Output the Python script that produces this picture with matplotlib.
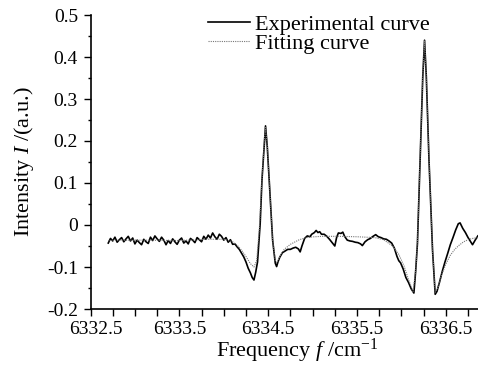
import matplotlib
matplotlib.use("Agg")
import matplotlib.pyplot as plt
import matplotlib.transforms as mtransforms
from matplotlib.ticker import MultipleLocator, FixedLocator

plt.rcParams['font.family'] = ['Liberation Serif', 'DejaVu Serif']
plt.rcParams['mathtext.fontset'] = 'custom'
plt.rcParams['mathtext.rm'] = 'Liberation Serif'
plt.rcParams['mathtext.it'] = 'Liberation Serif:italic'

# experimental spectrum
exp_freq = [
    6332.700, 6332.725, 6332.750, 6332.775, 6332.800, 6332.825, 6332.850, 6332.875,
    6332.900, 6332.925, 6332.950, 6332.975, 6333.000, 6333.025, 6333.050, 6333.075,
    6333.100, 6333.125, 6333.150, 6333.175, 6333.200, 6333.225, 6333.250, 6333.275,
    6333.300, 6333.325, 6333.350, 6333.375, 6333.400, 6333.425, 6333.450, 6333.475,
    6333.500, 6333.525, 6333.550, 6333.575, 6333.600, 6333.625, 6333.650, 6333.675,
    6333.700, 6333.725, 6333.750, 6333.775, 6333.800, 6333.825, 6333.850, 6333.875,
    6333.900, 6333.925, 6333.950, 6333.975, 6334.000, 6334.025, 6334.050, 6334.075,
    6334.100, 6334.125, 6334.150, 6334.175, 6334.200, 6334.225, 6334.250, 6334.275,
    6334.300, 6334.320, 6334.340, 6334.360, 6334.380, 6334.410, 6334.430, 6334.460,
    6334.470, 6334.490, 6334.520, 6334.550, 6334.580, 6334.595, 6334.610, 6334.630,
    6334.660, 6334.690, 6334.720, 6334.750, 6334.780, 6334.810, 6334.840, 6334.860,
    6334.880, 6334.910, 6334.940, 6334.970, 6334.990, 6335.020, 6335.040, 6335.060,
    6335.080, 6335.100, 6335.130, 6335.160, 6335.190, 6335.220, 6335.250, 6335.270,
    6335.290, 6335.320, 6335.340, 6335.360, 6335.390, 6335.420, 6335.450, 6335.480,
    6335.510, 6335.540, 6335.560, 6335.590, 6335.620, 6335.650, 6335.680, 6335.710,
    6335.740, 6335.770, 6335.800, 6335.830, 6335.860, 6335.890, 6335.920, 6335.950,
    6335.970, 6335.990, 6336.020, 6336.050, 6336.080, 6336.110, 6336.140, 6336.160,
    6336.180, 6336.210, 6336.240, 6336.260, 6336.280, 6336.310, 6336.350, 6336.380,
    6336.400, 6336.430, 6336.460, 6336.490, 6336.520, 6336.550, 6336.580, 6336.610,
    6336.640, 6336.660, 6336.690, 6336.720, 6336.750, 6336.780, 6336.800, 6336.830,
    6336.860,
]
exp_int = [
    -0.043, -0.032, -0.038, -0.029, -0.041, -0.035, -0.030, -0.040,
    -0.033, -0.027, -0.038, -0.031, -0.045, -0.036, -0.042, -0.047,
    -0.034, -0.040, -0.044, -0.029, -0.037, -0.026, -0.033, -0.039,
    -0.029, -0.036, -0.047, -0.037, -0.044, -0.033, -0.040, -0.046,
    -0.036, -0.031, -0.043, -0.038, -0.045, -0.032, -0.036, -0.042,
    -0.030, -0.035, -0.040, -0.027, -0.034, -0.024, -0.031, -0.019,
    -0.028, -0.034, -0.022, -0.027, -0.036, -0.030, -0.041, -0.035,
    -0.046, -0.045, -0.052, -0.058, -0.067, -0.076, -0.088, -0.103,
    -0.114, -0.125, -0.131, -0.112, -0.088, 0.004, 0.107, 0.202,
    0.236, 0.186, 0.075, -0.036, -0.091, -0.099, -0.088, -0.077,
    -0.066, -0.062, -0.058, -0.058, -0.055, -0.053, -0.057, -0.064,
    -0.050, -0.032, -0.026, -0.028, -0.022, -0.018, -0.013, -0.018,
    -0.016, -0.022, -0.022, -0.027, -0.034, -0.042, -0.050, -0.030,
    -0.019, -0.020, -0.017, -0.027, -0.036, -0.038, -0.039, -0.041,
    -0.042, -0.045, -0.049, -0.040, -0.035, -0.032, -0.027, -0.023,
    -0.028, -0.030, -0.033, -0.034, -0.038, -0.043, -0.055, -0.075,
    -0.085, -0.090, -0.105, -0.125, -0.137, -0.152, -0.162, -0.110,
    -0.044, 0.155, 0.353, 0.440, 0.353, 0.155, -0.060, -0.165,
    -0.158, -0.135, -0.110, -0.088, -0.068, -0.047, -0.030, -0.012,
    0.003, 0.005, -0.008, -0.018, -0.030, -0.040, -0.047, -0.036,
    -0.026,
]

# fitted curve
fit_freq = [
    6332.70, 6333.00, 6333.50, 6333.80, 6334.00, 6334.10, 6334.15, 6334.20,
    6334.25, 6334.30, 6334.34, 6334.37, 6334.40, 6334.43, 6334.46, 6334.47,
    6334.49, 6334.52, 6334.55, 6334.58, 6334.60, 6334.63, 6334.68, 6334.75,
    6334.85, 6334.95, 6335.10, 6335.30, 6335.50, 6335.70, 6335.80, 6335.90,
    6335.97, 6336.03, 6336.08, 6336.13, 6336.16, 6336.18, 6336.21, 6336.24,
    6336.26, 6336.28, 6336.31, 6336.35, 6336.38, 6336.41, 6336.45, 6336.50,
    6336.55, 6336.60, 6336.65, 6336.70, 6336.75, 6336.80, 6336.86,
]
fit_int = [
    -0.037, -0.036, -0.037, -0.034, -0.034, -0.040, -0.048, -0.060,
    -0.075, -0.092, -0.100, -0.085, -0.010, 0.110, 0.210, 0.232,
    0.190, 0.075, -0.035, -0.085, -0.090, -0.075, -0.058, -0.046,
    -0.035, -0.029, -0.027, -0.027, -0.028, -0.030, -0.035, -0.050,
    -0.070, -0.098, -0.130, -0.158, -0.110, -0.040, 0.160, 0.355,
    0.438, 0.355, 0.160, -0.060, -0.160, -0.150, -0.120, -0.093,
    -0.072, -0.058, -0.048, -0.040, -0.035, -0.032, -0.030,
]

x_ticklabels = ['6332.5', '6333.5', '6334.5', '6335.5', '6336.5']
y_ticks = [-0.2, -0.1, 0, 0.1, 0.2, 0.3, 0.4, 0.5]
y_ticklabels = ['-0.2', '-0.1', '0', '0.1', '0.2', '0.3', '0.4', '0.5']

fig = plt.figure(figsize=(4.78, 3.65), dpi=100)
# axes runs past the right edge of the picture, as in the original crop
ax = fig.add_axes([90.5 / 478, 1 - 309 / 365, 414 / 478, 294 / 365])

ax.plot(exp_freq, exp_int, color='black', lw=1.2, label='Experimental curve')
ax.plot(fit_freq, fit_int, color='#777777', lw=0.8, ls=(0, (1, 1)),
        label='Fitting curve')

ax.set_xlim(6332.5, 6337.16)
ax.set_ylim(-0.2, 0.5)

ax.xaxis.set_major_locator(FixedLocator([float(s) for s in x_ticklabels]))
ax.set_xticklabels(x_ticklabels)
ax.xaxis.set_minor_locator(MultipleLocator(0.25))
ax.set_yticks(y_ticks)
ax.set_yticklabels(y_ticklabels)
ax.yaxis.set_minor_locator(MultipleLocator(0.05))

ax.tick_params(which='both', direction='out', width=1.0, labelsize=14)
ax.tick_params(axis='x', which='both', length=5, pad=4)
ax.tick_params(axis='y', which='major', length=5, pad=4)
ax.tick_params(axis='y', which='minor', length=2.5)

for side in ['top', 'right']:
    ax.spines[side].set_visible(False)
for side in ['left', 'bottom']:
    ax.spines[side].set_linewidth(1.2)

# first x label sits a bit right of its tick in the original
lbl = ax.get_xticklabels()[0]
lbl.set_transform(lbl.get_transform() + mtransforms.ScaledTranslation(5 / 100, 0, fig.dpi_scale_trans))

ax.set_xlabel(r'Frequency $\mathit{f}$ /cm$^{-1}$', fontsize=16, labelpad=-1)
ax.set_ylabel(r'Intensity $\mathit{I}$ /(a.u.)', fontsize=16, labelpad=8)

ax.legend(loc='upper left', bbox_to_anchor=(208 / 478, 1 - 14 / 365),
          bbox_transform=fig.transFigure, frameon=False, fontsize=16,
          handlelength=1.9, handletextpad=0.2, labelspacing=-0.05,
          borderpad=0, borderaxespad=0)

fig.savefig('out.png', dpi=100)
